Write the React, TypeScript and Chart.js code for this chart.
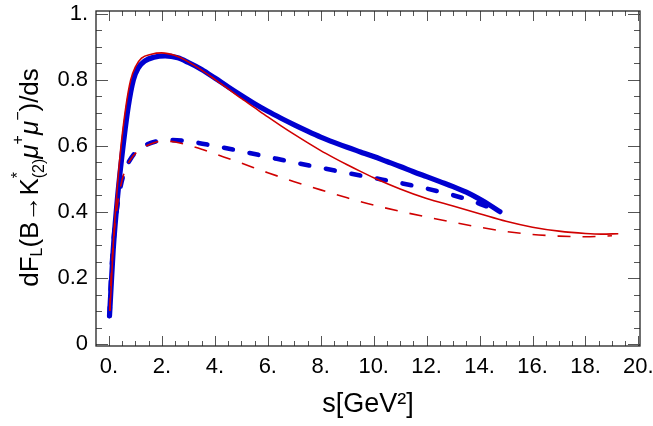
import React, { useEffect, useRef } from "react";
import { Chart, registerables } from "chart.js";

Chart.register(...registerables);

const FONT = "'Liberation Sans', Arial, Helvetica, sans-serif";

// ---- data (s in GeV^2, dF_L/ds) ----
const sRedSolid = [0.03, 0.08, 0.16, 0.29, 0.44, 0.64, 0.82, 1.0, 1.23, 1.6, 1.99, 2.5, 3.0, 3.5, 4.0, 4.5, 5.0, 5.5, 6.0, 6.5, 7.0, 7.5, 8.0, 8.5, 9.0, 9.5, 10.0, 11.0, 12.0, 13.0, 14.0, 15.0, 16.0, 17.0, 18.0, 18.6, 19.24];
const fRedSolid = [0.1, 0.165, 0.3, 0.45, 0.588, 0.72, 0.8, 0.84, 0.866, 0.878, 0.882, 0.874, 0.855, 0.83, 0.802, 0.773, 0.744, 0.716, 0.688, 0.661, 0.635, 0.61, 0.586, 0.564, 0.543, 0.523, 0.504, 0.47, 0.441, 0.418, 0.395, 0.372, 0.354, 0.342, 0.335, 0.333, 0.334];

const sRedDashed = [0.03, 0.08, 0.18, 0.3, 0.42, 0.6, 0.85, 1.1, 1.4, 1.7, 2.0, 2.5, 3.0, 3.5, 4.0, 5.0, 6.0, 7.0, 8.0, 9.0, 10.0, 11.0, 12.0, 13.0, 14.0, 15.0, 16.0, 17.0, 18.0, 19.0];
const fRedDashed = [0.1, 0.2, 0.32, 0.41, 0.47, 0.525, 0.563, 0.585, 0.6, 0.61, 0.615, 0.612, 0.602, 0.59, 0.576, 0.548, 0.519, 0.492, 0.467, 0.443, 0.421, 0.402, 0.385, 0.369, 0.354, 0.341, 0.332, 0.327, 0.325, 0.328];

const sBlueSolid = [0.02, 0.06, 0.16, 0.33, 0.48, 0.73, 0.92, 1.1, 1.36, 1.7, 2.12, 2.6, 3.0, 3.5, 4.0, 4.5, 5.0, 5.5, 6.0, 6.5, 7.0, 7.5, 8.0, 8.5, 9.0, 9.5, 10.0, 10.5, 11.0, 11.5, 12.0, 12.5, 13.0, 13.5, 14.0, 14.4, 14.77];
const fBlueSolid = [0.085, 0.143, 0.285, 0.45, 0.563, 0.72, 0.8, 0.836, 0.858, 0.869, 0.873, 0.867, 0.853, 0.832, 0.806, 0.779, 0.753, 0.728, 0.705, 0.684, 0.664, 0.645, 0.627, 0.611, 0.596, 0.582, 0.568, 0.553, 0.538, 0.522, 0.507, 0.492, 0.477, 0.46, 0.439, 0.42, 0.401];

const sBlueDashed = [0.02, 0.08, 0.18, 0.3, 0.42, 0.6, 0.85, 1.1, 1.4, 1.8, 2.27, 3.0, 4.0, 5.0, 6.0, 7.0, 8.0, 9.0, 10.0, 11.0, 12.0, 13.0, 13.5, 14.0, 14.4, 14.77];
const fBlueDashed = [0.085, 0.2, 0.32, 0.41, 0.47, 0.525, 0.565, 0.588, 0.603, 0.614, 0.618, 0.614, 0.6, 0.584, 0.567, 0.55, 0.534, 0.518, 0.503, 0.488, 0.471, 0.451, 0.439, 0.425, 0.413, 0.401];

// ---- ticks ----
const xTickValues = [0, 2, 4, 6, 8, 10, 12, 14, 16, 18, 20];
const xTickLabels = ["0.", "2.", "4.", "6.", "8.", "10.", "12.", "14.", "16.", "18.", "20."];
const yTickValues = [0, 0.2, 0.4, 0.6, 0.8, 1.0];
const yTickLabels = ["0", "0.2", "0.4", "0.6", "0.8", "1."];
const xMinorStep = 0.5;
const yMinorStep = 0.05;

const xTitle = "s[GeV²]";
const yTitleParts = [
  { text: "dF", role: "main" },
  { text: "L", role: "sub" },
  { text: "(B→K", role: "main" },
  { text: "*", role: "sup", under: "(2)" },
  { text: "μ", role: "main", italic: true },
  { text: "+", role: "sup" },
  { text: "μ", role: "main", italic: true },
  { text: "−", role: "sup" },
  { text: ")/ds", role: "main" },
];

const toPoints = (xs: number[], ys: number[]) => xs.map((x, i) => ({ x, y: ys[i] }));

const frameTicksPlugin = {
  id: "frameTicks",
  afterDatasetsDraw(chart: any) {
    const { ctx, chartArea: a } = chart;
    const xs = chart.scales.x;
    const ys = chart.scales.y;
    ctx.save();
    ctx.lineWidth = 1;
    ctx.strokeStyle = "#555";
    ctx.beginPath();
    const xN = Math.round((xTickValues[xTickValues.length - 1] - xTickValues[0]) / xMinorStep);
    for (let i = 0; i <= xN; i++) {
      const v = xTickValues[0] + i * xMinorStep;
      const px = Math.round(xs.getPixelForValue(v)) + 0.5;
      const len = i % 4 === 0 ? 10 : 5;
      ctx.moveTo(px, a.bottom);
      ctx.lineTo(px, a.bottom - len);
      ctx.moveTo(px, a.top);
      ctx.lineTo(px, a.top + len);
    }
    const yN = Math.round((yTickValues[yTickValues.length - 1] - yTickValues[0]) / yMinorStep);
    for (let i = 0; i <= yN; i++) {
      const v = yTickValues[0] + i * yMinorStep;
      const py = Math.round(ys.getPixelForValue(v)) + 0.5;
      const len = i % 4 === 0 ? 12 : 6;
      ctx.moveTo(a.left, py);
      ctx.lineTo(a.left + len, py);
      ctx.moveTo(a.right, py);
      ctx.lineTo(a.right - len, py);
    }
    ctx.stroke();
    ctx.strokeStyle = "#222";
    ctx.lineWidth = 1.3;
    ctx.strokeRect(a.left, a.top, a.right - a.left, a.bottom - a.top);
    ctx.restore();
  },
  afterDraw(chart: any) {
    const { ctx, chartArea: a } = chart;
    const mainSize = 26;
    const smallSize = 16;
    const fontFor = (size: number, italic?: boolean) => `${italic ? "italic " : ""}${size}px ${FONT}`;
    ctx.save();
    const widths = yTitleParts.map((p: any) => {
      ctx.font = fontFor(p.role === "main" ? mainSize : smallSize, p.italic);
      let w = ctx.measureText(p.text).width;
      if (p.under) {
        ctx.font = fontFor(smallSize);
        w = Math.max(w, ctx.measureText(p.under).width);
      }
      return w;
    });
    const total = widths.reduce((s: number, w: number) => s + w, 0);
    const cy = (a.top + a.bottom) / 2 - 1;
    ctx.translate(38, cy);
    ctx.rotate(-Math.PI / 2);
    ctx.fillStyle = "#000";
    ctx.textBaseline = "alphabetic";
    ctx.textAlign = "left";
    let x = -total / 2;
    yTitleParts.forEach((p: any, i: number) => {
      const size = p.role === "main" ? mainSize : smallSize;
      ctx.font = fontFor(size, p.italic);
      const dy = p.role === "sub" ? 4 : p.role === "sup" ? -15 : 0;
      ctx.fillText(p.text, x, dy);
      if (p.under) {
        ctx.font = fontFor(smallSize);
        ctx.fillText(p.under, x, 6);
      }
      x += widths[i];
    });
    ctx.restore();
  },
};

export default function App() {
  const canvasRef = useRef<HTMLCanvasElement | null>(null);

  useEffect(() => {
    if (!canvasRef.current) return;
    const red = "#d00000";
    const blue = "#0000d0";
    const chart = new Chart(canvasRef.current, {
      type: "line",
      data: {
        datasets: [
          {
            label: "red solid",
            data: toPoints(sRedSolid, fRedSolid),
            borderColor: red,
            borderWidth: 1.6,
            pointRadius: 0,
            fill: false,
            cubicInterpolationMode: "monotone",
          },
          {
            label: "red dashed",
            data: toPoints(sRedDashed, fRedDashed),
            borderColor: red,
            borderWidth: 1.6,
            borderDash: [13, 12],
            pointRadius: 0,
            fill: false,
            cubicInterpolationMode: "monotone",
          },
          {
            label: "blue solid",
            data: toPoints(sBlueSolid, fBlueSolid),
            borderColor: blue,
            borderWidth: 5.2,
            pointRadius: 0,
            fill: false,
            borderCapStyle: "round",
            cubicInterpolationMode: "monotone",
          },
          {
            label: "blue dashed",
            data: toPoints(sBlueDashed, fBlueDashed),
            borderColor: blue,
            borderWidth: 4.6,
            borderDash: [9, 17],
            borderCapStyle: "round",
            pointRadius: 0,
            fill: false,
            cubicInterpolationMode: "monotone",
          },
        ],
      } as any,
      options: {
        responsive: false,
        animation: false,
        devicePixelRatio: 1,
        layout: { padding: { left: 0, top: 11, right: 13, bottom: 0 } },
        plugins: { legend: { display: false }, tooltip: { enabled: false } },
        scales: {
          x: {
            type: "linear",
            min: -0.49,
            max: 20.06,
            grid: { display: false, drawTicks: false },
            border: { display: false },
            ticks: {
              padding: 8,
              color: "#000",
              font: { family: FONT, size: 22 },
              maxRotation: 0,
              autoSkip: false,
              callback: (_v: any, i: number) => xTickLabels[i],
            },
            afterBuildTicks: (s: any) => {
              s.ticks = xTickValues.map((v) => ({ value: v }));
            },
            afterFit: (s: any) => {
              s.height = 80;
              s.paddingLeft = 0;
              s.paddingRight = 0;
            },
            title: {
              display: true,
              text: xTitle,
              color: "#000",
              font: { family: FONT, size: 27 },
              padding: { top: 0, bottom: 5 },
            },
          },
          y: {
            type: "linear",
            min: -0.006,
            max: 1.009,
            grid: { display: false, drawTicks: false },
            border: { display: false },
            ticks: {
              padding: 8,
              color: "#000",
              font: { family: FONT, size: 22 },
              autoSkip: false,
              callback: (_v: any, i: number) => yTickLabels[i],
            },
            afterBuildTicks: (s: any) => {
              s.ticks = yTickValues.map((v) => ({ value: v }));
            },
            afterFit: (s: any) => {
              s.width = 96;
              s.paddingTop = 0;
              s.paddingBottom = 0;
            },
          },
        },
      } as any,
      plugins: [frameTicksPlugin],
    });
    return () => chart.destroy();
  }, []);

  return (
    <div style={{ position: "fixed", left: 0, top: 0, width: 653, height: 426, background: "#fff" }}>
      <canvas ref={canvasRef} width={653} height={426} style={{ display: "block", width: 653, height: 426 }} />
    </div>
  );
}
